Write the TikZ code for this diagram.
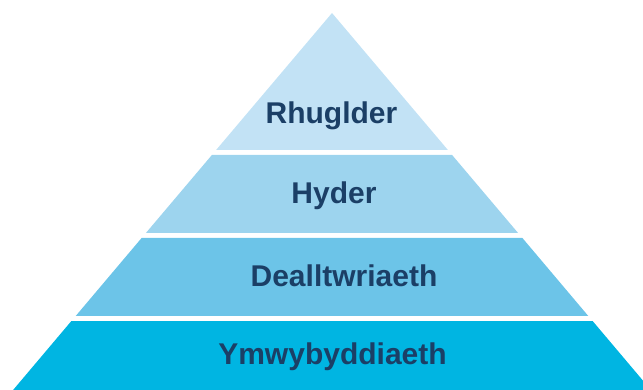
\documentclass[tikz,border=0pt]{standalone}
\usepackage{fontspec}
\setmainfont{Liberation Sans}
\definecolor{lvA}{HTML}{C2E2F5}
\definecolor{lvB}{HTML}{9DD4EE}
\definecolor{lvC}{HTML}{6CC4E8}
\definecolor{lvD}{HTML}{00B5E2}
\definecolor{txt}{HTML}{1B3F66}
\begin{document}
\begin{tikzpicture}[x=1pt,y=-1pt,
  lbl/.style={anchor=base,text=txt,font=\bfseries\fontsize{30}{33}\selectfont,inner sep=0pt}]
\useasboundingbox (0,0) rectangle (643,390);
\clip (0,0) rectangle (643,390);
\fill[lvA] (332,13) -- (447.9,150) -- (216.1,150) -- cycle;
\fill[lvB] (211.9,155) -- (452.1,155) -- (518.1,233) -- (145.9,233) -- cycle;
\fill[lvC] (141.6,238) -- (522.4,238) -- (588.3,316) -- (75.7,316) -- cycle;
\fill[lvD] (71.4,321) -- (592.6,321) -- (650.9,390) -- (13.1,390) -- cycle;
\node[lbl] (t1) at (331.5,124) {Rhuglder};
\node[lbl] (t2) at (334,203.5) {Hyder};
\node[lbl] (t3) at (344,287) {Dealltwriaeth};
\node[lbl] (t4) at (332.5,364) {Ymwybyddiaeth};
\end{tikzpicture}
\end{document}
